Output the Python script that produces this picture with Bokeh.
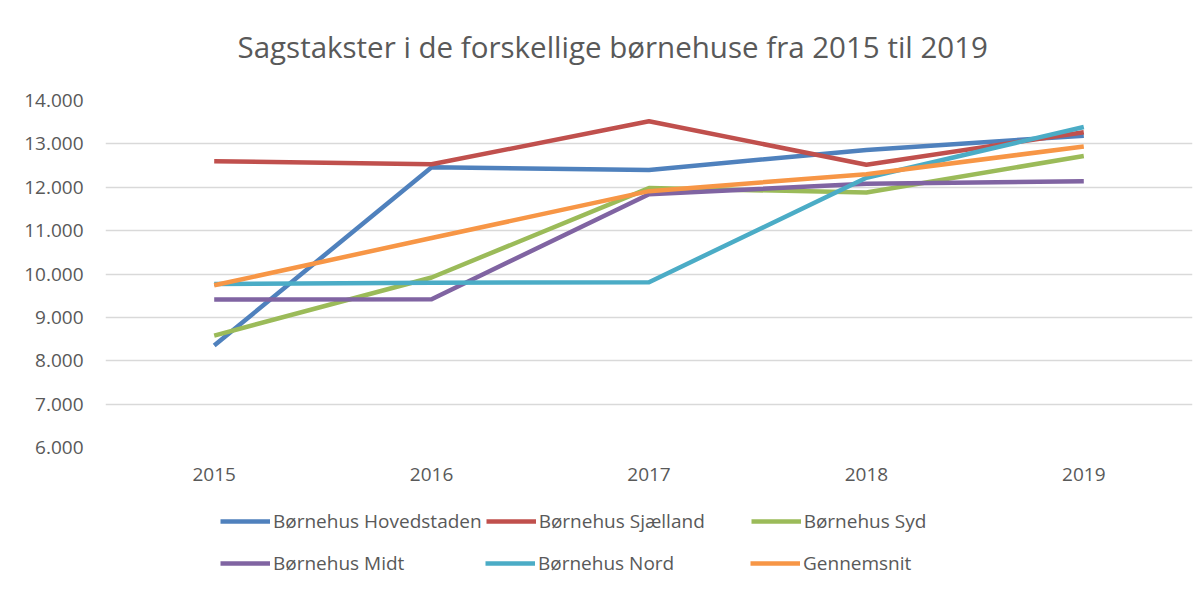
from bokeh.plotting import figure
from bokeh.models import Legend, LegendItem, FixedTicker, Range1d, FactorRange, Label
from bokeh.layouts import column
from bokeh.embed import file_html
from bokeh.resources import INLINE

years = ["2015", "2016", "2017", "2018", "2019"]
hovedstaden = [8350, 12460, 12400, 12860, 13190]
sjaelland = [12600, 12530, 13520, 12520, 13270]
syd = [8580, 9920, 11980, 11880, 12720]
midt = [9410, 9420, 11840, 12080, 12140]
nord = [9770, 9800, 9810, 12220, 13390]
gennemsnit = [9740, 10830, 11910, 12300, 12940]

series_names = ["Børnehus Hovedstaden", "Børnehus Sjælland", "Børnehus Syd",
                "Børnehus Midt", "Børnehus Nord", "Gennemsnit"]
series_values = [hovedstaden, sjaelland, syd, midt, nord, gennemsnit]
colors = ["#4F81BD", "#C0504D", "#9BBB59", "#8064A2", "#4BACC6", "#F79646"]

y_ticks = [6000, 7000, 8000, 9000, 10000, 11000, 12000, 13000, 14000]
y_tick_labels = ["6.000", "7.000", "8.000", "9.000", "10.000", "11.000", "12.000", "13.000", "14.000"]

title_text = "Sagstakster i de forskellige børnehuse fra 2015 til 2019"

FONT = "Open Sans"
GREY = "#595959"

TITLE_H = 78
FRAME_TOP, FRAME_BOTTOM = 100, 447
MAIN_H = 500 - TITLE_H
LEG_H = 592 - TITLE_H - MAIN_H
FRAME_LEFT, FRAME_RIGHT = 105, 1192


def strip(h, xr, yr):
    f = figure(width=1204, height=h, output_backend="svg", toolbar_location=None,
               x_range=xr, y_range=yr, min_border=0,
               x_axis_location=None, y_axis_location=None)
    f.outline_line_color = None
    f.grid.grid_line_color = None
    f.background_fill_color = "white"
    f.border_fill_color = "white"
    return f


# ---- title strip ----
ts = strip(TITLE_H, Range1d(0, FRAME_RIGHT - FRAME_LEFT), Range1d(0, TITLE_H))
ts.add_layout(Label(x=237 - FRAME_LEFT, y=TITLE_H - 46, text=title_text,
                    text_font=FONT, text_font_size="29.5px", text_color=GREY,
                    text_baseline="alphabetic", text_align="left"))

# ---- main chart ----
p = figure(width=1204, height=MAIN_H, output_backend="svg", toolbar_location=None,
           x_range=FactorRange(*years), y_range=Range1d(6000, 14000),
           min_border_left=FRAME_LEFT, min_border_right=1204 - FRAME_RIGHT,
           min_border_top=FRAME_TOP - TITLE_H,
           min_border_bottom=TITLE_H + MAIN_H - FRAME_BOTTOM)
p.outline_line_color = None
p.background_fill_color = "white"
p.border_fill_color = "white"

p.yaxis.ticker = FixedTicker(ticks=y_ticks)
p.yaxis.major_label_overrides = {t: l for t, l in zip(y_ticks, y_tick_labels)}
for ax in (p.xaxis[0], p.yaxis[0]):
    ax.axis_line_color = None
    ax.major_tick_line_color = None
    ax.minor_tick_line_color = None
    ax.major_label_text_font = FONT
    ax.major_label_text_font_size = "19px"
    ax.major_label_text_color = GREY
p.yaxis.major_label_standoff = 16
p.xaxis.major_label_standoff = 14

p.xgrid.grid_line_color = None
p.ygrid.grid_line_color = "#D9D9D9"
p.ygrid.grid_line_width = 1.5

for name, vals, c in zip(series_names, series_values, colors):
    p.line(x=years, y=vals, line_color=c, line_width=4.5, line_join="round")

# ---- legend strip (2 rows x 3 columns) ----
lf = strip(LEG_H, FactorRange(*years), Range1d(0, 1))
leg_renderers = []
for name, vals, c in zip(series_names, series_values, colors):
    # same series (outside this strip's view) used as legend glyph sources
    r = lf.line(x=years, y=vals, line_color=c, line_width=4.5)
    leg_renderers.append(r)

leg_top = TITLE_H + MAIN_H
row_centers = [524 - leg_top, 566 - leg_top]
item_h = 20
for row in range(2):
    items = [LegendItem(label=series_names[row * 3 + k], renderers=[leg_renderers[row * 3 + k]])
             for k in range(3)]
    top = row_centers[row] - item_h / 2
    lg = Legend(items=items, location=(220 - FRAME_LEFT, LEG_H - (top + item_h)),
                orientation="horizontal", padding=0, margin=0, spacing=4,
                glyph_width=50, glyph_height=item_h, label_standoff=3,
                label_width=208, label_height=item_h,
                label_text_font=FONT, label_text_font_size="19px",
                label_text_color=GREY,
                border_line_color=None, background_fill_alpha=0)
    lf.add_layout(lg, "center")

layout = column(ts, p, lf, spacing=0)
open("out.html", "w").write(file_html(layout, INLINE))
